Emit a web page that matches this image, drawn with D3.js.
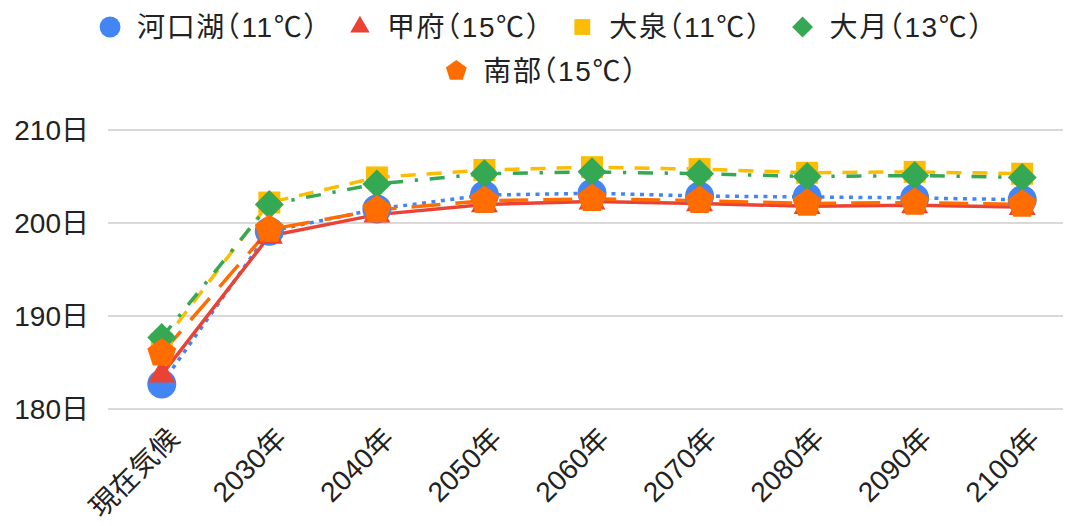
<!DOCTYPE html>
<html>
<head>
<meta charset="utf-8">
<script src="https://cdn.jsdelivr.net/npm/d3@7"></script>
<style>
  body { margin: 0; background: #fff; }
  text { font-family: "Liberation Sans", Arial, "Noto Sans CJK JP", sans-serif; fill: #222; }
  .legend text { font-feature-settings: "halt"; letter-spacing: 1.6px; }
</style>
</head>
<body>
<div id="chart"></div>
<script>
// categories and series (days)
var categories = ["現在気候", "2030年", "2040年", "2050年", "2060年", "2070年", "2080年", "2090年", "2100年"];
var kawaguchiko = [182.7, 199.1, 201.5, 203.0, 203.2, 202.9, 202.8, 202.7, 202.5];
var kofu        = [183.7, 198.6, 200.9, 202.0, 202.3, 202.1, 201.8, 201.9, 201.7];
var oizumi      = [187.0, 202.2, 204.9, 205.7, 206.0, 205.8, 205.4, 205.5, 205.3];
var otsuki      = [187.7, 202.0, 204.2, 205.3, 205.5, 205.3, 205.0, 205.1, 204.9];
var nanbu       = [186.0, 199.3, 201.4, 202.4, 202.6, 202.4, 202.1, 202.2, 202.0];
var yTicks = [180, 190, 200, 210];

var series = [
    {name: "河口湖（11℃）", values: kawaguchiko, color: "#4285F4", shape: "circle",   dash: "4,5.5"},
    {name: "甲府（15℃）",   values: kofu,        color: "#EA4335", shape: "triangle", dash: null},
    {name: "大泉（11℃）",   values: oizumi,      color: "#FBBC04", shape: "square",   dash: "15,11"},
    {name: "大月（13℃）",   values: otsuki,      color: "#34A853", shape: "diamond",  dash: "15,11.7,3.3,11.7"},
    {name: "南部（15℃）",   values: nanbu,       color: "#FF6D01", shape: "pentagon", dash: "29,15"}
];

var width = 1065, height = 526;
var plot = {left: 108, right: 1063};

var svg = d3.select("#chart").append("svg")
    .attr("width", width)
    .attr("height", height);

var x = d3.scalePoint()
    .domain(categories)
    .range([plot.left, 1076])
    .padding(0.5);

var y = d3.scaleLinear()
    .domain([180, 210])
    .range([409, 130]);

// marker path for a given shape, scale k (1 = plot size)
function pentagon(r) {
    var pts = d3.range(5).map(function(i) {
        var a = -Math.PI / 2 + i * 2 * Math.PI / 5;
        return [r * Math.cos(a), r * Math.sin(a)];
    });
    return "M" + pts.join("L") + "Z";
}
function markerPath(shape, k) {
    if (shape == "circle") return d3.symbol(d3.symbolCircle, 660 * k * k)();
    if (shape == "triangle") return d3.symbol(d3.symbolTriangle, 316 * k * k)();
    if (shape == "square") return d3.symbol(d3.symbolSquare, 484 * k * k)();
    if (shape == "diamond") return d3.symbol(d3.symbolSquare, 420 * k * k)();
    return pentagon(15.2 * k);
}
function markerRotate(shape) {
    return shape == "diamond" ? " rotate(45)" : "";
}

// gridlines
svg.append("g")
    .selectAll("line")
    .data(yTicks)
    .enter()
    .append("line")
    .attr("x1", plot.left)
    .attr("x2", plot.right)
    .attr("y1", function(d) { return y(d); })
    .attr("y2", function(d) { return y(d); })
    .attr("stroke", "#cccccc")
    .attr("stroke-width", 1.5);

// y labels
svg.append("g")
    .selectAll("text")
    .data(yTicks)
    .enter()
    .append("text")
    .attr("x", 89)
    .attr("y", function(d) { return y(d); })
    .attr("dy", "0.35em")
    .style("text-anchor", "end")
    .style("font-size", "28px")
    .text(function(d) { return d + "日"; });

// x labels, rotated
svg.append("g")
    .selectAll("text")
    .data(categories)
    .enter()
    .append("text")
    .attr("transform", function(d) { return "translate(" + (x(d) + 19) + ",440) rotate(-45)"; })
    .style("text-anchor", "end")
    .style("font-size", "28px")
    .text(function(d) { return d; });

// lines
var line = d3.line()
    .x(function(d, i) { return x(categories[i]); })
    .y(function(d) { return y(d); });

svg.append("g")
    .selectAll("path")
    .data(series)
    .enter()
    .append("path")
    .attr("d", function(s) { return line(s.values); })
    .attr("fill", "none")
    .attr("stroke", function(s) { return s.color; })
    .attr("stroke-width", 3.5)
    .attr("stroke-dasharray", function(s) { return s.dash; })
    .attr("stroke-linejoin", "round");

// markers
series.forEach(function(s) {
    svg.append("g")
        .selectAll("path")
        .data(s.values)
        .enter()
        .append("path")
        .attr("transform", function(d, i) {
            return "translate(" + x(categories[i]) + "," + y(d) + ")" + markerRotate(s.shape);
        })
        .attr("d", markerPath(s.shape, 1))
        .attr("fill", s.color);
});

// legend: two centred rows
var rows = [series.slice(0, 4), series.slice(4)];
var rowY = [27, 71];
var legendCenter = 542;
var gap = 31;
rows.forEach(function(items, r) {
    var g = svg.append("g").attr("class", "legend");
    var cursor = 0;
    items.forEach(function(s, i) {
        var item = g.append("g").attr("transform", "translate(" + cursor + ",0)");
        item.append("path")
            .attr("transform", "translate(10," + rowY[r] + ")" + markerRotate(s.shape))
            .attr("d", markerPath(s.shape, 0.72))
            .attr("fill", s.color);
        var t = item.append("text")
            .attr("x", 37)
            .attr("y", rowY[r])
            .attr("dy", "0.35em")
            .style("font-size", "28px")
            .text(s.name);
        cursor += 37 + t.node().getComputedTextLength() + gap;
    });
    var total = cursor - gap;
    g.attr("transform", "translate(" + (legendCenter - total / 2) + ",0)");
});
</script>
</body>
</html>
